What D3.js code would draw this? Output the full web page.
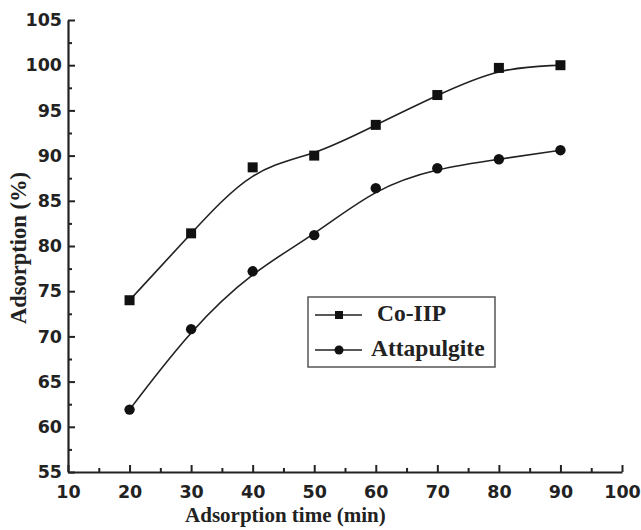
<!DOCTYPE html>
<html>
<head>
<meta charset="utf-8">
<script src="https://cdn.jsdelivr.net/npm/d3@7"></script>
<style>
body { margin: 0; background: #fff; }
svg { display: block; }
.axis path, .axis line { stroke: #222; }
</style>
</head>
<body>
<svg id="chart" width="641" height="530"></svg>
<script>
// data
var times = [20, 30, 40, 50, 60, 70, 80, 90];
var coIIP = [74.0, 81.4, 88.7, 90.0, 93.4, 96.7, 99.7, 100.0];
var attapulgite = [61.9, 70.8, 77.2, 81.2, 86.4, 88.6, 89.6, 90.6];
var xTicks = [10, 20, 30, 40, 50, 60, 70, 80, 90, 100];
var yTicks = [55, 60, 65, 70, 75, 80, 85, 90, 95, 100, 105];
var seriesNames = ["Co-IIP", "Attapulgite"];

var tickFont = '"DejaVu Sans", "Liberation Sans", Arial, sans-serif';
var titleFont = '"Liberation Serif", "Times New Roman", "DejaVu Serif", serif';

var margin = {left: 68, top: 20, right: 19, bottom: 58};
var width = 641 - margin.left - margin.right;
var height = 530 - margin.top - margin.bottom;

var svg = d3.select('#chart');
var g = svg.append('g')
	.attr('transform', 'translate(' + margin.left + ',' + margin.top + ')');

var x = d3.scaleLinear().domain([10, 100]).range([0, width]);
var y = d3.scaleLinear().domain([55, 105]).range([height, 0]);

// minor ticks first, then the major axis on top
var xMinor = d3.range(15, 100, 10);
var yMinor = d3.range(57.5, 105, 5);

g.append('g')
	.attr('class', 'axis')
	.attr('transform', 'translate(0,' + height + ')')
	.call(d3.axisBottom(x).tickValues(xMinor).tickSize(-4).tickFormat(''))
	.call(function(s){ s.select('.domain').remove(); })
	.selectAll('line').attr('stroke-width', 2);

g.append('g')
	.attr('class', 'axis')
	.call(d3.axisLeft(y).tickValues(yMinor).tickSize(-4).tickFormat(''))
	.call(function(s){ s.select('.domain').remove(); })
	.selectAll('line').attr('stroke-width', 2);

var xAxis = g.append('g')
	.attr('class', 'axis')
	.attr('transform', 'translate(0,' + height + ')')
	.call(d3.axisBottom(x).tickValues(xTicks).tickSize(-7).tickSizeOuter(0).tickPadding(14));
xAxis.select('.domain').attr('stroke-width', 2.2);
xAxis.selectAll('line').attr('stroke-width', 2);

var yAxis = g.append('g')
	.attr('class', 'axis')
	.call(d3.axisLeft(y).tickValues(yTicks).tickSize(-7).tickSizeOuter(0).tickPadding(6));
yAxis.select('.domain').attr('stroke-width', 2.2);
yAxis.selectAll('line').attr('stroke-width', 2);

g.selectAll('.axis text')
	.attr('font-family', tickFont)
	.attr('font-weight', 'bold')
	.attr('font-size', 17.5)
	.attr('fill', '#222');

// curves
var line = d3.line()
	.x(function(d){ return x(d[0]); })
	.y(function(d){ return y(d[1]); })
	.curve(d3.curveBasis);

var series = [coIIP, attapulgite].map(function(vals){
	return times.map(function(t, i){ return [t, vals[i]]; });
});

g.selectAll('.curve')
	.data(series)
	.enter()
	.append('path')
	.attr('class', 'curve')
	.attr('d', line)
	.attr('fill', 'none')
	.attr('stroke', '#222')
	.attr('stroke-width', 1.6);

g.selectAll('.sq')
	.data(series[0])
	.enter()
	.append('rect')
	.attr('class', 'sq')
	.attr('x', function(d){ return x(d[0]) - 5; })
	.attr('y', function(d){ return y(d[1]) - 5; })
	.attr('width', 10)
	.attr('height', 10)
	.attr('fill', '#111');

g.selectAll('.dot')
	.data(series[1])
	.enter()
	.append('circle')
	.attr('class', 'dot')
	.attr('cx', function(d){ return x(d[0]); })
	.attr('cy', function(d){ return y(d[1]); })
	.attr('r', 5.2)
	.attr('fill', '#111');

// legend
var legend = svg.append('g').attr('transform', 'translate(308,297)');
legend.append('rect')
	.attr('width', 187)
	.attr('height', 70)
	.attr('fill', '#fff')
	.attr('stroke', '#555')
	.attr('stroke-width', 1.5);

var rows = [{y: 18, tx: 69}, {y: 53, tx: 63}];
rows.forEach(function(r, i){
	legend.append('line')
		.attr('x1', 7).attr('x2', 54)
		.attr('y1', r.y).attr('y2', r.y)
		.attr('stroke', '#222').attr('stroke-width', 1.6);
	if (i == 0) {
		legend.append('rect')
			.attr('x', 27).attr('y', r.y - 4)
			.attr('width', 8).attr('height', 8)
			.attr('fill', '#111');
	} else {
		legend.append('circle')
			.attr('cx', 31).attr('cy', r.y)
			.attr('r', 4.5)
			.attr('fill', '#111');
	}
	legend.append('text')
		.attr('x', r.tx)
		.attr('y', r.y + 6)
		.attr('font-family', titleFont)
		.attr('font-weight', 'bold')
		.attr('font-size', 23.5)
		.attr('fill', '#222')
		.text(seriesNames[i]);
});

// axis titles
svg.append('text')
	.attr('x', margin.left + x(45) + 2)
	.attr('y', 522)
	.attr('text-anchor', 'middle')
	.attr('font-family', titleFont)
	.attr('font-weight', 'bold')
	.attr('font-size', 21)
	.attr('fill', '#222')
	.text('Adsorption time (min)');

svg.append('text')
	.attr('transform', 'translate(26,248) rotate(-90)')
	.attr('text-anchor', 'middle')
	.attr('font-family', titleFont)
	.attr('font-weight', 'bold')
	.attr('font-size', 22.5)
	.attr('fill', '#222')
	.text('Adsorption (%)');
</script>
</body>
</html>
